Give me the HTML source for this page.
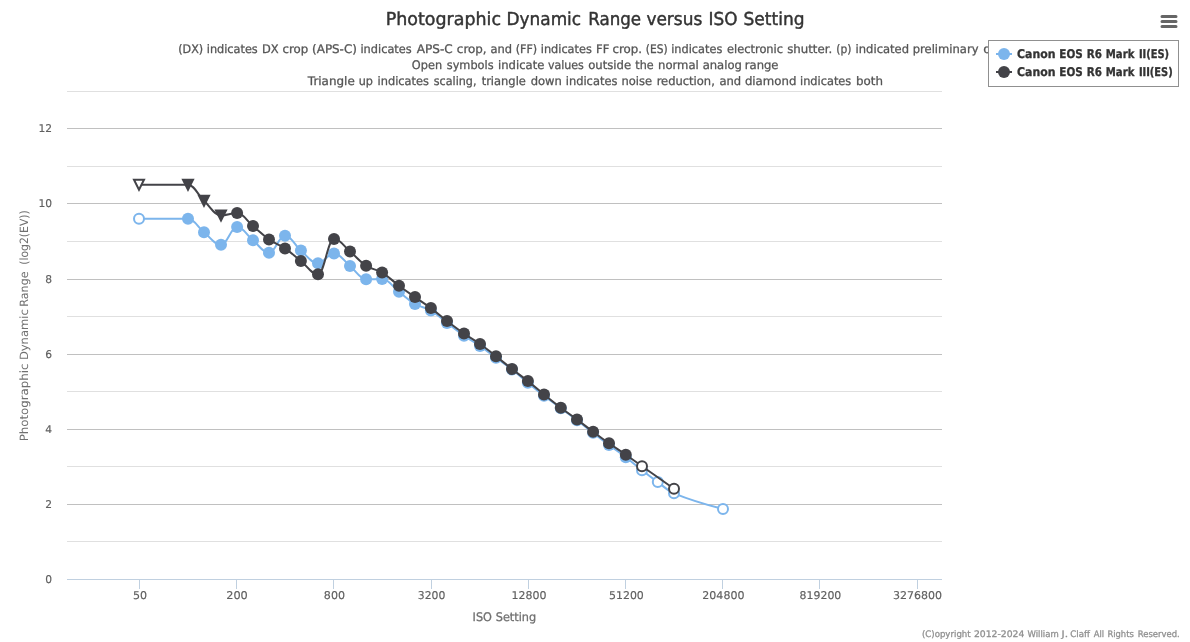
<!DOCTYPE html>
<html lang="en">
<head>
<meta charset="utf-8">
<title>Photographic Dynamic Range versus ISO Setting</title>
<style>
html,body{margin:0;padding:0;background:#fff;}
body{width:1190px;height:642px;overflow:hidden;font-family:"DejaVu Sans", "Liberation Sans", sans-serif;}
svg{display:block;}
svg text{white-space:pre;stroke-linejoin:round;text-rendering:geometricPrecision;}
</style>
</head>
<body>
<svg width="1190" height="642" viewBox="0 0 1190 642" font-family="'DejaVu Sans', 'Liberation Sans', sans-serif">
<rect width="1190" height="642" fill="#fff"/>
<path d="M67 91.5H942" stroke="#e0e0e0" stroke-width="1" fill="none"/>
<path d="M67 128.5H942" stroke="#c0c0c0" stroke-width="1" fill="none"/>
<path d="M67 166.5H942" stroke="#e0e0e0" stroke-width="1" fill="none"/>
<path d="M67 203.5H942" stroke="#c0c0c0" stroke-width="1" fill="none"/>
<path d="M67 241.5H942" stroke="#e0e0e0" stroke-width="1" fill="none"/>
<path d="M67 279.5H942" stroke="#c0c0c0" stroke-width="1" fill="none"/>
<path d="M67 316.5H942" stroke="#e0e0e0" stroke-width="1" fill="none"/>
<path d="M67 354.5H942" stroke="#c0c0c0" stroke-width="1" fill="none"/>
<path d="M67 391.5H942" stroke="#e0e0e0" stroke-width="1" fill="none"/>
<path d="M67 429.5H942" stroke="#c0c0c0" stroke-width="1" fill="none"/>
<path d="M67 466.5H942" stroke="#e0e0e0" stroke-width="1" fill="none"/>
<path d="M67 504.5H942" stroke="#c0c0c0" stroke-width="1" fill="none"/>
<path d="M67 541.5H942" stroke="#e0e0e0" stroke-width="1" fill="none"/>
<path d="M67 579.5H942" stroke="#c0d0e0" stroke-width="1" fill="none"/>
<path d="M139.5 580V589" stroke="#c0d0e0" stroke-width="1" fill="none"/>
<path d="M236.5 580V589" stroke="#c0d0e0" stroke-width="1" fill="none"/>
<path d="M333.5 580V589" stroke="#c0d0e0" stroke-width="1" fill="none"/>
<path d="M431.5 580V589" stroke="#c0d0e0" stroke-width="1" fill="none"/>
<path d="M528.5 580V589" stroke="#c0d0e0" stroke-width="1" fill="none"/>
<path d="M625.5 580V589" stroke="#c0d0e0" stroke-width="1" fill="none"/>
<path d="M722.5 580V589" stroke="#c0d0e0" stroke-width="1" fill="none"/>
<path d="M819.5 580V589" stroke="#c0d0e0" stroke-width="1" fill="none"/>
<path d="M917.5 580V589" stroke="#c0d0e0" stroke-width="1" fill="none"/>
<path d="M139.00 218.75 C139.00 218.75 168.40 218.75 188.00 218.75 C194.40 218.75 197.60 227.15 204.00 232.20 C210.80 237.57 214.20 244.80 221.00 244.80 C227.44 244.80 230.66 227.00 237.10 227.00 C243.46 227.00 246.64 235.16 253.00 240.30 C259.40 245.48 262.60 252.80 269.00 252.80 C275.40 252.80 278.60 235.80 285.00 235.80 C291.36 235.80 294.54 245.32 300.90 250.60 C307.74 256.28 311.16 263.20 318.00 263.20 C324.40 263.20 327.60 253.40 334.00 253.40 C340.40 253.40 343.60 260.86 350.00 266.00 C356.44 271.18 359.66 279.20 366.10 279.20 C372.50 279.20 375.70 279.10 382.10 279.10 C388.86 279.10 392.24 286.68 399.00 291.80 C405.40 296.64 408.60 300.27 415.00 304.00 C421.36 307.71 424.54 306.64 430.90 310.40 C437.34 314.20 440.56 317.98 447.00 322.90 C453.80 328.10 457.20 330.94 464.00 335.70 C470.40 340.18 473.60 341.58 480.00 346.00 C486.40 350.42 489.60 353.10 496.00 357.80 C502.40 362.50 505.60 364.48 512.00 369.50 C518.36 374.48 521.54 377.59 527.90 382.80 C534.34 388.07 537.56 390.73 544.00 395.70 C550.72 400.89 554.08 403.19 560.80 408.20 C567.28 413.03 570.52 415.36 577.00 420.30 C583.44 425.20 586.66 427.83 593.10 432.80 C599.46 437.71 602.64 440.25 609.00 445.00 C615.72 450.01 619.08 452.05 625.80 457.20 C632.28 462.17 635.52 465.26 642.00 470.30 C648.32 475.22 651.48 477.56 657.80 482.10 C664.28 486.76 667.52 490.63 674.00 493.30 C693.60 501.39 723.00 509.00 723.00 509.00" fill="none" stroke="#7cb5ec" stroke-width="2" stroke-linejoin="round" stroke-linecap="round"/>
<circle cx="139.00" cy="218.75" r="5" fill="#fff" stroke="#7cb5ec" stroke-width="2"/>
<circle cx="188.00" cy="218.75" r="6" fill="#7cb5ec"/>
<circle cx="204.00" cy="232.20" r="6" fill="#7cb5ec"/>
<circle cx="221.00" cy="244.80" r="6" fill="#7cb5ec"/>
<circle cx="237.10" cy="227.00" r="6" fill="#7cb5ec"/>
<circle cx="253.00" cy="240.30" r="6" fill="#7cb5ec"/>
<circle cx="269.00" cy="252.80" r="6" fill="#7cb5ec"/>
<circle cx="285.00" cy="235.80" r="6" fill="#7cb5ec"/>
<circle cx="300.90" cy="250.60" r="6" fill="#7cb5ec"/>
<circle cx="318.00" cy="263.20" r="6" fill="#7cb5ec"/>
<circle cx="334.00" cy="253.40" r="6" fill="#7cb5ec"/>
<circle cx="350.00" cy="266.00" r="6" fill="#7cb5ec"/>
<circle cx="366.10" cy="279.20" r="6" fill="#7cb5ec"/>
<circle cx="382.10" cy="279.10" r="6" fill="#7cb5ec"/>
<circle cx="399.00" cy="291.80" r="6" fill="#7cb5ec"/>
<circle cx="415.00" cy="304.00" r="6" fill="#7cb5ec"/>
<circle cx="430.90" cy="310.40" r="6" fill="#7cb5ec"/>
<circle cx="447.00" cy="322.90" r="6" fill="#7cb5ec"/>
<circle cx="464.00" cy="335.70" r="6" fill="#7cb5ec"/>
<circle cx="480.00" cy="346.00" r="6" fill="#7cb5ec"/>
<circle cx="496.00" cy="357.80" r="6" fill="#7cb5ec"/>
<circle cx="512.00" cy="369.50" r="6" fill="#7cb5ec"/>
<circle cx="527.90" cy="382.80" r="6" fill="#7cb5ec"/>
<circle cx="544.00" cy="395.70" r="6" fill="#7cb5ec"/>
<circle cx="560.80" cy="408.20" r="6" fill="#7cb5ec"/>
<circle cx="577.00" cy="420.30" r="6" fill="#7cb5ec"/>
<circle cx="593.10" cy="432.80" r="6" fill="#7cb5ec"/>
<circle cx="609.00" cy="445.00" r="6" fill="#7cb5ec"/>
<circle cx="625.80" cy="457.20" r="6" fill="#7cb5ec"/>
<circle cx="642.00" cy="470.30" r="5" fill="#fff" stroke="#7cb5ec" stroke-width="2"/>
<circle cx="657.80" cy="482.10" r="5" fill="#fff" stroke="#7cb5ec" stroke-width="2"/>
<circle cx="674.00" cy="493.30" r="5" fill="#fff" stroke="#7cb5ec" stroke-width="2"/>
<circle cx="723.00" cy="509.00" r="5" fill="#fff" stroke="#7cb5ec" stroke-width="2"/>
<path d="M139.00 184.70 C139.00 184.70 168.40 184.70 188.00 184.70 C194.40 184.70 197.60 194.75 204.00 200.70 C210.80 207.03 214.20 215.40 221.00 215.40 C227.44 215.40 230.66 213.05 237.10 213.05 C243.46 213.05 246.64 220.85 253.00 226.10 C259.40 231.39 262.60 234.94 269.00 239.40 C275.40 243.86 278.60 244.07 285.00 248.40 C291.36 252.71 294.54 256.01 300.90 261.00 C307.74 266.37 311.16 274.30 318.00 274.30 C324.40 274.30 327.60 239.00 334.00 239.00 C340.40 239.00 343.60 246.08 350.00 251.40 C356.44 256.76 359.66 261.45 366.10 265.70 C372.50 269.93 375.70 268.71 382.10 272.60 C388.86 276.71 392.24 280.67 399.00 285.70 C405.40 290.47 408.60 292.61 415.00 297.10 C421.36 301.57 424.54 303.35 430.90 308.10 C437.34 312.91 440.56 316.04 447.00 321.00 C453.80 326.24 457.20 328.86 464.00 333.60 C470.40 338.06 473.60 339.48 480.00 344.00 C486.40 348.52 489.60 351.20 496.00 356.20 C502.40 361.20 505.60 364.00 512.00 369.00 C518.36 373.96 521.54 376.05 527.90 381.10 C534.34 386.21 537.56 389.19 544.00 394.40 C550.72 399.83 554.08 402.59 560.80 407.70 C567.28 412.63 570.52 414.69 577.00 419.50 C583.44 424.29 586.66 426.91 593.10 431.70 C599.46 436.43 602.64 438.83 609.00 443.30 C615.72 448.03 619.08 450.04 625.80 454.70 C632.28 459.20 635.52 461.63 642.00 466.20 C654.80 475.23 674.00 488.70 674.00 488.70" fill="none" stroke="#434348" stroke-width="2" stroke-linejoin="round" stroke-linecap="round"/>
<path d="M134.00 179.70L144.00 179.70L139.00 189.70Z" fill="#fff" stroke="#434348" stroke-width="2"/>
<path d="M183.00 179.70L193.00 179.70L188.00 189.70Z" fill="#434348" stroke="#434348" stroke-width="2"/>
<path d="M199.00 195.70L209.00 195.70L204.00 205.70Z" fill="#434348" stroke="#434348" stroke-width="2"/>
<path d="M216.00 210.40L226.00 210.40L221.00 220.40Z" fill="#434348" stroke="#434348" stroke-width="2"/>
<circle cx="237.10" cy="213.05" r="6" fill="#434348"/>
<circle cx="253.00" cy="226.10" r="6" fill="#434348"/>
<circle cx="269.00" cy="239.40" r="6" fill="#434348"/>
<circle cx="285.00" cy="248.40" r="6" fill="#434348"/>
<circle cx="300.90" cy="261.00" r="6" fill="#434348"/>
<circle cx="318.00" cy="274.30" r="6" fill="#434348"/>
<circle cx="334.00" cy="239.00" r="6" fill="#434348"/>
<circle cx="350.00" cy="251.40" r="6" fill="#434348"/>
<circle cx="366.10" cy="265.70" r="6" fill="#434348"/>
<circle cx="382.10" cy="272.60" r="6" fill="#434348"/>
<circle cx="399.00" cy="285.70" r="6" fill="#434348"/>
<circle cx="415.00" cy="297.10" r="6" fill="#434348"/>
<circle cx="430.90" cy="308.10" r="6" fill="#434348"/>
<circle cx="447.00" cy="321.00" r="6" fill="#434348"/>
<circle cx="464.00" cy="333.60" r="6" fill="#434348"/>
<circle cx="480.00" cy="344.00" r="6" fill="#434348"/>
<circle cx="496.00" cy="356.20" r="6" fill="#434348"/>
<circle cx="512.00" cy="369.00" r="6" fill="#434348"/>
<circle cx="527.90" cy="381.10" r="6" fill="#434348"/>
<circle cx="544.00" cy="394.40" r="6" fill="#434348"/>
<circle cx="560.80" cy="407.70" r="6" fill="#434348"/>
<circle cx="577.00" cy="419.50" r="6" fill="#434348"/>
<circle cx="593.10" cy="431.70" r="6" fill="#434348"/>
<circle cx="609.00" cy="443.30" r="6" fill="#434348"/>
<circle cx="625.80" cy="454.70" r="6" fill="#434348"/>
<circle cx="642.00" cy="466.20" r="5" fill="#fff" stroke="#434348" stroke-width="2"/>
<circle cx="674.00" cy="488.70" r="5" fill="#fff" stroke="#434348" stroke-width="2"/>
<text y="25.00" font-size="17.8" fill="#333333" stroke="#333333" stroke-width="0.45"><tspan x="385.73" textLength="115.27" lengthAdjust="spacingAndGlyphs">Photographic</tspan> <tspan x="506.55" textLength="74.56" lengthAdjust="spacingAndGlyphs">Dynamic</tspan> <tspan x="588.19" textLength="52.88" lengthAdjust="spacingAndGlyphs">Range</tspan> <tspan x="646.38" textLength="55.89" lengthAdjust="spacingAndGlyphs">versus</tspan> <tspan x="708.55" textLength="28.95" lengthAdjust="spacingAndGlyphs">ISO</tspan> <tspan x="743.56" textLength="61.02" lengthAdjust="spacingAndGlyphs">Setting</tspan></text>
<text y="53.00" font-size="11.8" fill="#555555" stroke="#555555" stroke-width="0.30"><tspan x="178.24" textLength="24.90" lengthAdjust="spacingAndGlyphs">(DX)</tspan> <tspan x="206.76" textLength="51.00" lengthAdjust="spacingAndGlyphs">indicates</tspan> <tspan x="261.89" textLength="16.65" lengthAdjust="spacingAndGlyphs">DX</tspan> <tspan x="282.45" textLength="25.73" lengthAdjust="spacingAndGlyphs">crop</tspan> <tspan x="312.10" textLength="44.79" lengthAdjust="spacingAndGlyphs">(APS-C)</tspan> <tspan x="360.48" textLength="51.25" lengthAdjust="spacingAndGlyphs">indicates</tspan> <tspan x="416.80" textLength="35.97" lengthAdjust="spacingAndGlyphs">APS-C</tspan> <tspan x="456.89" textLength="29.77" lengthAdjust="spacingAndGlyphs">crop,</tspan> <tspan x="490.38" textLength="21.58" lengthAdjust="spacingAndGlyphs">and</tspan> <tspan x="515.67" textLength="21.54" lengthAdjust="spacingAndGlyphs">(FF)</tspan> <tspan x="540.76" textLength="51.06" lengthAdjust="spacingAndGlyphs">indicates</tspan> <tspan x="595.99" textLength="13.31" lengthAdjust="spacingAndGlyphs">FF</tspan> <tspan x="612.44" textLength="29.54" lengthAdjust="spacingAndGlyphs">crop.</tspan> <tspan x="645.85" textLength="21.77" lengthAdjust="spacingAndGlyphs">(ES)</tspan> <tspan x="671.23" textLength="51.08" lengthAdjust="spacingAndGlyphs">indicates</tspan> <tspan x="727.00" textLength="56.03" lengthAdjust="spacingAndGlyphs">electronic</tspan> <tspan x="787.20" textLength="45.03" lengthAdjust="spacingAndGlyphs">shutter.</tspan> <tspan x="836.32" textLength="15.20" lengthAdjust="spacingAndGlyphs">(p)</tspan> <tspan x="855.59" textLength="53.45" lengthAdjust="spacingAndGlyphs">indicated</tspan> <tspan x="912.76" textLength="65.74" lengthAdjust="spacingAndGlyphs">preliminary</tspan> <tspan x="983.20" textLength="28.45" lengthAdjust="spacingAndGlyphs">data</tspan></text>
<text y="69.00" font-size="11.8" fill="#555555" stroke="#555555" stroke-width="0.30"><tspan x="411.86" textLength="30.20" lengthAdjust="spacingAndGlyphs">Open</tspan> <tspan x="446.77" textLength="46.82" lengthAdjust="spacingAndGlyphs">symbols</tspan> <tspan x="498.07" textLength="46.23" lengthAdjust="spacingAndGlyphs">indicate</tspan> <tspan x="547.89" textLength="36.02" lengthAdjust="spacingAndGlyphs">values</tspan> <tspan x="588.24" textLength="42.93" lengthAdjust="spacingAndGlyphs">outside</tspan> <tspan x="635.30" textLength="18.34" lengthAdjust="spacingAndGlyphs">the</tspan> <tspan x="658.09" textLength="40.72" lengthAdjust="spacingAndGlyphs">normal</tspan> <tspan x="702.63" textLength="39.22" lengthAdjust="spacingAndGlyphs">analog</tspan> <tspan x="744.78" textLength="33.72" lengthAdjust="spacingAndGlyphs">range</tspan></text>
<text y="85.00" font-size="11.8" fill="#555555" stroke="#555555" stroke-width="0.30"><tspan x="307.86" textLength="46.89" lengthAdjust="spacingAndGlyphs">Triangle</tspan> <tspan x="358.67" textLength="14.22" lengthAdjust="spacingAndGlyphs">up</tspan> <tspan x="377.62" textLength="51.32" lengthAdjust="spacingAndGlyphs">indicates</tspan> <tspan x="433.74" textLength="42.72" lengthAdjust="spacingAndGlyphs">scaling,</tspan> <tspan x="481.67" textLength="44.23" lengthAdjust="spacingAndGlyphs">triangle</tspan> <tspan x="530.63" textLength="31.22" lengthAdjust="spacingAndGlyphs">down</tspan> <tspan x="565.75" textLength="51.63" lengthAdjust="spacingAndGlyphs">indicates</tspan> <tspan x="621.49" textLength="30.63" lengthAdjust="spacingAndGlyphs">noise</tspan> <tspan x="656.64" textLength="58.18" lengthAdjust="spacingAndGlyphs">reduction,</tspan> <tspan x="719.38" textLength="21.76" lengthAdjust="spacingAndGlyphs">and</tspan> <tspan x="744.92" textLength="51.44" lengthAdjust="spacingAndGlyphs">diamond</tspan> <tspan x="800.01" textLength="51.22" lengthAdjust="spacingAndGlyphs">indicates</tspan> <tspan x="855.94" textLength="26.97" lengthAdjust="spacingAndGlyphs">both</tspan></text>
<text x="52" y="132.0" font-size="10.7" fill="#606060" text-anchor="end" stroke="#606060" stroke-width="0.15">12</text>
<text x="52" y="207.0" font-size="10.7" fill="#606060" text-anchor="end" stroke="#606060" stroke-width="0.15">10</text>
<text x="52" y="283.0" font-size="10.7" fill="#606060" text-anchor="end" stroke="#606060" stroke-width="0.15">8</text>
<text x="52" y="358.0" font-size="10.7" fill="#606060" text-anchor="end" stroke="#606060" stroke-width="0.15">6</text>
<text x="52" y="433.0" font-size="10.7" fill="#606060" text-anchor="end" stroke="#606060" stroke-width="0.15">4</text>
<text x="52" y="508.0" font-size="10.7" fill="#606060" text-anchor="end" stroke="#606060" stroke-width="0.15">2</text>
<text x="52" y="583.0" font-size="10.7" fill="#606060" text-anchor="end" stroke="#606060" stroke-width="0.15">0</text>
<text y="599.00" font-size="10.7" fill="#606060" stroke="#606060" stroke-width="0.15"><tspan x="133.04" textLength="14.11" lengthAdjust="spacingAndGlyphs">50</tspan></text>
<text y="599.00" font-size="10.7" fill="#606060" stroke="#606060" stroke-width="0.15"><tspan x="226.24" textLength="21.57" lengthAdjust="spacingAndGlyphs">200</tspan></text>
<text y="599.00" font-size="10.7" fill="#606060" stroke="#606060" stroke-width="0.15"><tspan x="323.87" textLength="21.14" lengthAdjust="spacingAndGlyphs">800</tspan></text>
<text y="599.00" font-size="10.7" fill="#606060" stroke="#606060" stroke-width="0.15"><tspan x="417.81" textLength="27.52" lengthAdjust="spacingAndGlyphs">3200</tspan></text>
<text y="599.00" font-size="10.7" fill="#606060" stroke="#606060" stroke-width="0.15"><tspan x="511.53" textLength="34.96" lengthAdjust="spacingAndGlyphs">12800</tspan></text>
<text y="599.00" font-size="10.7" fill="#606060" stroke="#606060" stroke-width="0.15"><tspan x="609.01" textLength="34.80" lengthAdjust="spacingAndGlyphs">51200</tspan></text>
<text y="599.00" font-size="10.7" fill="#606060" stroke="#606060" stroke-width="0.15"><tspan x="702.35" textLength="42.08" lengthAdjust="spacingAndGlyphs">204800</tspan></text>
<text y="599.00" font-size="10.7" fill="#606060" stroke="#606060" stroke-width="0.15"><tspan x="799.63" textLength="41.67" lengthAdjust="spacingAndGlyphs">819200</tspan></text>
<text y="599.00" font-size="10.7" fill="#606060" stroke="#606060" stroke-width="0.15"><tspan x="892.96" textLength="49.09" lengthAdjust="spacingAndGlyphs">3276800</tspan></text>
<text y="621.00" font-size="11.8" fill="#707070" stroke="#707070" stroke-width="0.30"><tspan x="472.60" textLength="19.34" lengthAdjust="spacingAndGlyphs">ISO</tspan> <tspan x="495.78" textLength="40.42" lengthAdjust="spacingAndGlyphs">Setting</tspan></text>
<text y="0.00" font-size="11.4" fill="#707070" transform="translate(28.05 440.3) rotate(-90)"><tspan x="-1.03" textLength="77.70" lengthAdjust="spacingAndGlyphs">Photographic</tspan> <tspan x="80.19" textLength="50.88" lengthAdjust="spacingAndGlyphs">Dynamic</tspan> <tspan x="133.62" textLength="35.29" lengthAdjust="spacingAndGlyphs">Range</tspan> <tspan x="175.50" textLength="54.62" lengthAdjust="spacingAndGlyphs">(log2(EV))</tspan></text>
<rect x="988.5" y="40.5" width="190" height="46" fill="#fff" stroke="#909090" stroke-width="1"/>
<path d="M996 54H1012" stroke="#7cb5ec" stroke-width="2" fill="none"/>
<circle cx="1004" cy="54" r="6" fill="#7cb5ec"/>
<path d="M996 72H1012" stroke="#434348" stroke-width="2" fill="none"/>
<circle cx="1004" cy="72" r="6" fill="#434348"/>
<text y="57.60" font-size="12" fill="#333333" font-weight="bold" font-family="'DejaVu Sans Condensed', 'DejaVu Sans', 'Liberation Sans', sans-serif" stroke="#333333" stroke-width="0.30"><tspan x="1017.10" textLength="38.45" lengthAdjust="spacingAndGlyphs">Canon</tspan> <tspan x="1059.36" textLength="23.39" lengthAdjust="spacingAndGlyphs">EOS</tspan> <tspan x="1086.67" textLength="15.19" lengthAdjust="spacingAndGlyphs">R6</tspan> <tspan x="1105.76" textLength="28.62" lengthAdjust="spacingAndGlyphs">Mark</tspan> <tspan x="1138.88" textLength="30.15" lengthAdjust="spacingAndGlyphs">II(ES)</tspan></text>
<text y="75.70" font-size="12" fill="#333333" font-weight="bold" font-family="'DejaVu Sans Condensed', 'DejaVu Sans', 'Liberation Sans', sans-serif" stroke="#333333" stroke-width="0.30"><tspan x="1017.10" textLength="38.45" lengthAdjust="spacingAndGlyphs">Canon</tspan> <tspan x="1059.36" textLength="23.39" lengthAdjust="spacingAndGlyphs">EOS</tspan> <tspan x="1086.67" textLength="15.19" lengthAdjust="spacingAndGlyphs">R6</tspan> <tspan x="1105.76" textLength="28.62" lengthAdjust="spacingAndGlyphs">Mark</tspan> <tspan x="1138.89" textLength="33.78" lengthAdjust="spacingAndGlyphs">III(ES)</tspan></text>
<path d="M1162 16.5H1176M1162 21.5H1176M1162 26.5H1176" stroke="#666" stroke-width="3" stroke-linecap="round" fill="none"/>
<text y="637.00" font-size="9" fill="#909090" stroke="#909090" stroke-width="0.30"><tspan x="921.94" textLength="48.73" lengthAdjust="spacingAndGlyphs">(C)opyright</tspan> <tspan x="973.92" textLength="50.39" lengthAdjust="spacingAndGlyphs">2012-2024</tspan> <tspan x="1027.54" textLength="31.19" lengthAdjust="spacingAndGlyphs">William</tspan> <tspan x="1061.50" textLength="6.53" lengthAdjust="spacingAndGlyphs">J.</tspan> <tspan x="1070.23" textLength="19.69" lengthAdjust="spacingAndGlyphs">Claff</tspan> <tspan x="1093.70" textLength="10.38" lengthAdjust="spacingAndGlyphs">All</tspan> <tspan x="1107.39" textLength="26.41" lengthAdjust="spacingAndGlyphs">Rights</tspan> <tspan x="1137.82" textLength="41.91" lengthAdjust="spacingAndGlyphs">Reserved.</tspan></text>
</svg>
</body>
</html>
